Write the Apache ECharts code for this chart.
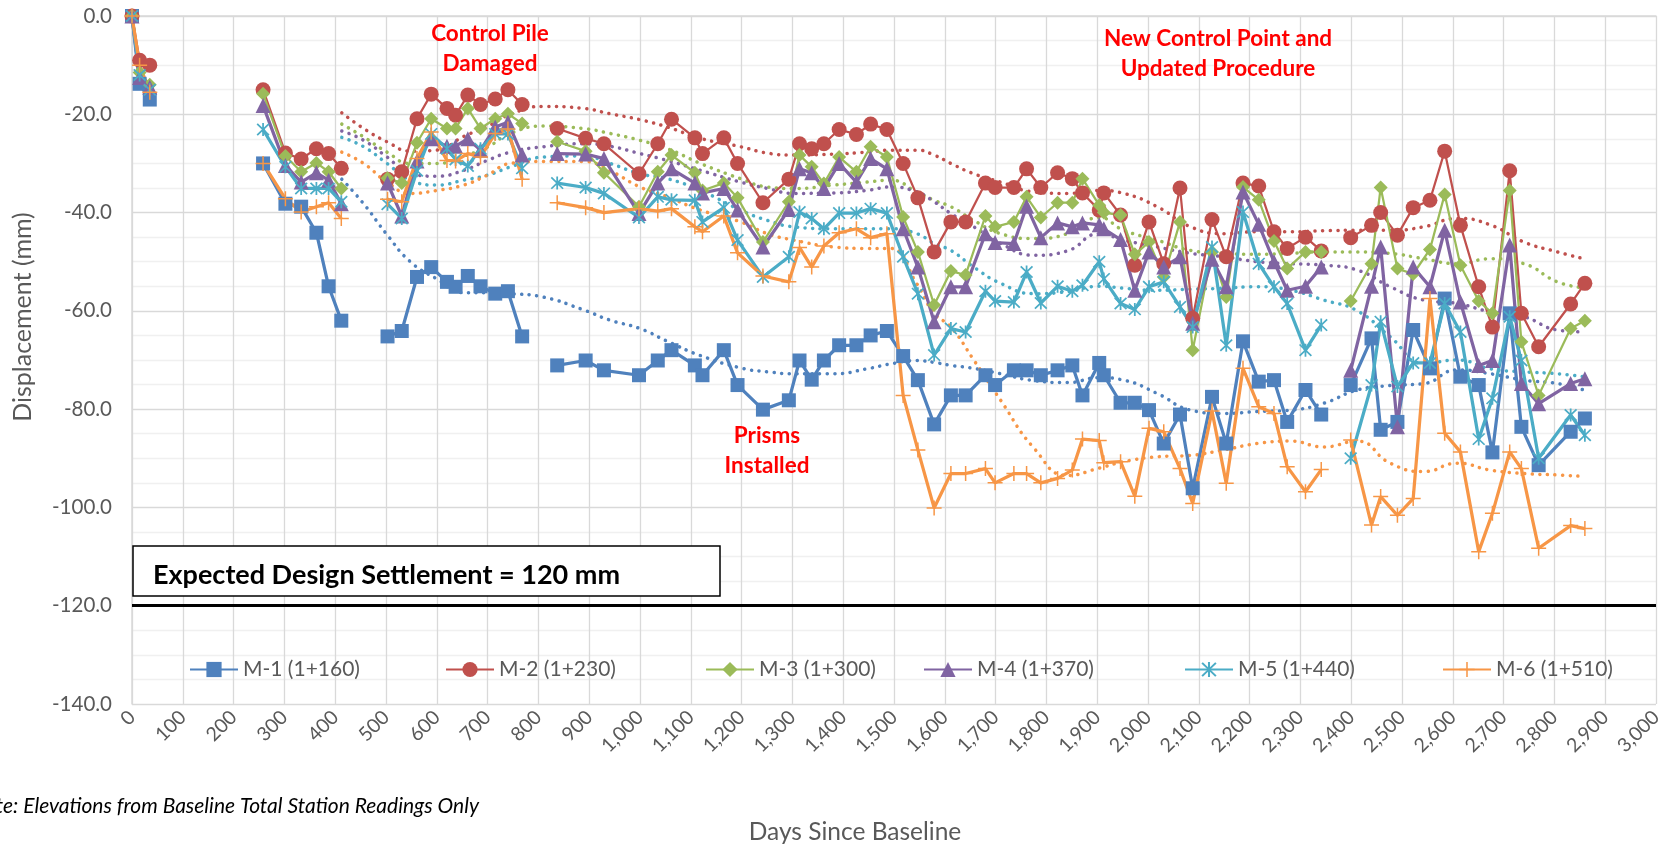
<!DOCTYPE html>
<html>
<head>
<meta charset="utf-8">
<script src="https://cdn.jsdelivr.net/npm/echarts@6/dist/echarts.min.js"></script>
<style>
  html, body { margin: 0; padding: 0; background: #fff; }
  #chart { width: 1669px; height: 848px; }
</style>
</head>
<body>
<div id="chart"></div>
<script>
// days since baseline; 140 / 460 / 800 / 2370 are empty rows (breaks in the lines)
const days = [
  0, 15, 35,
  140,
  258, 302, 333, 363, 387, 412,
  460,
  503, 531, 561, 589, 620, 637, 661, 686, 715, 740, 768,
  800,
  837, 893, 929,
  998, 1035, 1062, 1108, 1123, 1165, 1192,
  1242, 1293, 1314, 1338, 1362, 1392, 1426, 1454, 1486,
  1518, 1547, 1579, 1612, 1641,
  1680, 1699, 1736, 1761, 1789, 1822, 1851, 1871,
  1904, 1913, 1946, 1974, 2002, 2031, 2063, 2088,
  2126, 2154, 2187, 2218, 2248, 2274, 2310, 2341,
  2370,
  2399, 2440, 2458, 2491, 2522, 2555, 2584, 2615, 2651, 2678, 2712, 2735, 2769, 2832, 2860
]

const m1 = [
  0, -13.8, -17.0,
  null,
  -30.0, -38.2, -38.8, -44.1, -55.0, -62.0,
  null,
  -65.2, -64.1, -53.1, -51.1, -54.1, -55.1, -52.9, -55.0, -56.5, -56.0, -65.2,
  null,
  -71.1, -70.1, -72.1,
  -73.1, -70.1, -68.0, -71.1, -73.1, -68.0, -75.1,
  -80.1, -78.2, -70.1, -74.0, -70.1, -67.0, -67.0, -65.0, -64.1,
  -69.2, -74.1, -83.1, -77.2, -77.2,
  -73.1, -75.1, -72.1, -72.1, -73.1, -72.1, -71.1, -77.2,
  -70.6, -73.1, -78.7, -78.7, -80.2, -87.0, -81.1, -96.1,
  -77.5, -87.0, -66.2, -74.4, -74.1, -82.6, -76.1, -81.1,
  null,
  -75.1, -65.6, -84.2, -82.6, -63.9, -71.7, -57.5, -73.4, -75.1, -88.8, -60.5, -83.6, -91.4, -84.6, -81.9
]

const m2 = [
  0, -9.0, -10.0,
  null,
  -15.0, -27.9, -29.1, -27.0, -28.0, -31.0,
  null,
  -33.2, -31.7, -20.9, -15.9, -18.8, -20.2, -16.1, -18.0, -16.9, -15.0, -18.0,
  null,
  -22.9, -24.9, -26.0,
  -32.1, -26.0, -21.0, -24.8, -28.0, -24.8, -30.0,
  -38.0, -33.2, -26.0, -27.0, -26.0, -23.1, -24.1, -22.0, -23.1,
  -30.0, -37.0, -48.0, -41.9, -41.9,
  -34.0, -34.9, -34.9, -31.1, -34.9, -31.9, -33.1, -36.0,
  -39.5, -36.0, -40.5, -50.7, -41.9, -50.4, -35.0, -61.5,
  -41.4, -49.0, -34.0, -34.6, -43.9, -47.3, -45.0, -47.8,
  null,
  -45.1, -42.6, -40.0, -44.6, -39.0, -37.5, -27.5, -42.6, -55.1, -63.3, -31.5, -60.5, -67.3, -58.6, -54.4
]

const m3 = [
  0, -11.5, -14.0,
  null,
  -15.8, -28.5, -31.7, -29.9, -31.7, -35.1,
  null,
  -33.0, -34.0, -25.8, -20.9, -22.9, -22.9, -18.8, -22.9, -20.9, -19.9, -21.9,
  null,
  -25.6, -27.5, -31.9,
  -38.8, -31.7, -28.3, -31.9, -35.5, -34.0, -37.0,
  -46.0, -37.8, -28.3, -30.7, -34.1, -28.7, -31.7, -26.6, -28.7,
  -40.9, -48.0, -58.8, -51.9, -52.7,
  -40.7, -42.9, -41.9, -36.8, -41.0, -38.0, -38.0, -33.1,
  -38.5, -40.0, -40.5, -48.5, -46.0, -53.1, -41.9, -68.0,
  -48.0, -57.2, -34.8, -37.4, -45.8, -51.4, -48.0, -48.0,
  null,
  -58.0, -50.4, -34.9, -51.4, -52.5, -47.5, -36.3, -50.7, -58.0, -60.5, -35.5, -66.3, -77.2, -63.6, -62.0
]

const m4 = [
  0, -12.5, -14.5,
  null,
  -18.2, -30.4, -33.8, -31.9, -33.4, -38.2,
  null,
  -34.0, -40.7, -29.5, -25.0, -26.5, -26.5, -25.0, -27.3, -22.6, -21.6, -28.3,
  null,
  -28.0, -28.1, -29.0,
  -40.2, -34.0, -31.1, -34.0, -36.0, -35.1, -39.5,
  -47.0, -39.4, -31.1, -31.9, -35.1, -30.0, -33.8, -29.0, -31.1,
  -43.3, -51.1, -62.2, -55.1, -55.1,
  -44.3, -46.1, -46.3, -38.7, -45.1, -42.1, -42.9, -42.1,
  -42.5, -43.3, -45.5, -55.8, -48.0, -51.1, -49.0, -62.5,
  -49.5, -55.1, -35.8, -42.4, -50.0, -55.8, -55.0, -51.1,
  null,
  -72.1, -55.0, -47.0, -83.6, -51.1, -55.1, -43.6, -58.2, -71.1, -70.1, -46.6, -74.8, -78.9, -74.8, -73.8
]

const m5 = [
  0, -12.0, -15.0,
  null,
  -23.1, -30.7, -35.1, -35.1, -35.1, -37.8,
  null,
  -38.3, -41.2, -31.5, -24.0, -27.0, -29.2, -30.5, -27.0, -24.0, -24.0, -31.0,
  null,
  -34.0, -34.9, -36.1,
  -41.0, -36.8, -37.4, -37.5, -41.9, -39.0, -45.6,
  -53.1, -49.0, -39.9, -41.2, -43.3, -40.1, -40.1, -39.2, -40.1,
  -49.0, -56.5, -69.0, -63.6, -64.3,
  -56.0, -58.0, -58.2, -52.1, -58.4, -55.0, -56.0, -54.8,
  -50.0, -53.5, -58.5, -59.7, -55.1, -54.1, -59.2, -63.3,
  -47.0, -67.0, -39.9, -50.4, -55.1, -58.5, -68.0, -62.9,
  null,
  -90.0, -75.1, -62.2, -75.4, -70.6, -70.6, -58.5, -64.3, -86.1, -77.8, -61.2, -70.1, -90.0, -81.2, -85.3
]

const m6 = [
  0, -10.0, -15.5,
  null,
  -30.0, -37.2, -39.9, -38.8, -38.0, -41.2,
  null,
  -37.3, -37.8, -29.0, -23.6, -29.4, -29.5, -28.0, -28.7, -23.9, -23.0, -33.2,
  null,
  -38.0, -39.0, -40.0,
  -39.2, -39.7, -39.2, -42.9, -43.9, -40.7, -48.2,
  -52.9, -54.1, -47.1, -51.1, -46.8, -44.1, -43.3, -45.1, -44.3,
  -77.2, -88.3, -100.1, -93.1, -93.1,
  -92.1, -95.0, -93.1, -93.1, -95.0, -94.1, -92.4, -86.1,
  -86.4, -90.9, -90.7, -97.7, -83.9, -84.6, -92.1, -99.2,
  -80.4, -95.1, -71.7, -79.5, -80.9, -91.7, -96.8, -92.3,
  null,
  -86.3, -103.6, -97.8, -101.6, -98.2, -57.5, -84.9, -88.7, -109.0, -101.2, -88.7, -92.1, -108.3, -103.7, -104.3
]

// dotted trend lines
const trendDays = [
  413, 456, 502, 548, 600, 653, 699, 745, 810, 889,
  941, 1000, 1054, 1119, 1198, 1251, 1303, 1382, 1447, 1493,
  1545, 1579, 1612, 1657, 1710, 1776, 1841, 1904, 1952, 2018,
  2084, 2149, 2215, 2281, 2346, 2412, 2477, 2543, 2609, 2674,
  2740, 2806, 2858
]
const trend1 = [
  -33.2, -38.2, -44.5, -50.0, -53.5, -56.3, -56.3, -56.5, -57.2, -59.8,
  -61.9, -63.6, -66.2, -69.1, -71.6, -72.4, -72.8, -72.8, -71.8, -70.8,
  -70.1, -70.5, -71.1, -71.7, -72.8, -74.2, -74.6, -73.6, -74.1, -76.8,
  -80.2, -80.9, -80.5, -80.2, -78.8, -76.1, -75.2, -74.8, -72.0, -72.8,
  -74.1, -74.8, -76.1
]
const trend2 = [
  -19.7, -22.9, -25.6, -27.5, -27.3, -24.5, -22.5, -20.0, -18.4, -18.8,
  -19.9, -21.1, -22.6, -24.9, -26.6, -27.9, -28.3, -28.1, -27.7, -27.3,
  -27.3, -28.3, -30.0, -32.1, -33.8, -35.8, -36.1, -35.5, -36.1, -38.8,
  -42.9, -44.3, -43.9, -43.9, -43.7, -43.6, -43.6, -42.9, -41.2, -42.5,
  -46.0, -48.0, -49.4
]
const trend3 = [
  -22.0, -24.6, -27.7, -30.0, -30.0, -28.5, -26.7, -23.9, -22.4, -22.9,
  -23.9, -25.3, -27.0, -30.0, -33.1, -34.8, -35.1, -34.4, -33.8, -33.4,
  -35.8, -37.5, -38.8, -41.6, -44.3, -45.3, -44.3, -41.0, -43.6, -45.6,
  -47.7, -48.3, -48.5, -48.3, -48.0, -48.0, -48.3, -49.4, -50.4, -49.4,
  -50.4, -54.1, -55.3
]
const trend4 = [
  -23.4, -25.3, -28.7, -32.1, -32.6, -31.4, -29.4, -27.7, -26.6, -26.0,
  -26.5, -28.0, -29.4, -31.4, -33.8, -35.1, -36.1, -36.0, -35.5, -34.8,
  -35.8, -37.8, -40.2, -42.9, -46.3, -48.7, -47.8, -44.3, -45.6, -47.0,
  -48.3, -49.0, -50.0, -50.4, -50.7, -51.7, -55.1, -57.8, -58.5, -60.2,
  -61.2, -63.9, -64.3
]
const trend5 = [
  -24.7, -26.6, -30.0, -33.4, -34.4, -33.4, -32.4, -30.7, -28.7, -28.5,
  -30.0, -32.1, -33.1, -35.5, -39.5, -41.6, -42.9, -43.3, -43.3, -43.3,
  -44.3, -46.3, -47.7, -51.1, -54.4, -56.5, -56.1, -55.0, -55.4, -55.8,
  -55.6, -55.4, -55.1, -55.8, -57.8, -60.0, -65.3, -70.7, -70.0, -71.8,
  -72.4, -72.8, -73.4
]
const trend6 = [
  -27.7, -30.0, -33.8, -36.1, -35.5, -34.4, -32.4, -30.0, -29.6, -29.6,
  -31.5, -34.8, -36.8, -39.5, -41.9, -44.3, -45.6, -47.0, -47.3, -47.3,
  -54.5, -60.5, -63.3, -70.0, -78.2, -88.0, -93.5, -92.0, -90.7, -89.7,
  -89.4, -88.3, -87.0, -86.5, -87.7, -86.5, -91.0, -92.7, -91.0, -92.4,
  -93.1, -93.4, -93.7
]

const names = ['M-1 (1+160)', 'M-2 (1+230)', 'M-3 (1+300)', 'M-4 (1+370)', 'M-5 (1+440)', 'M-6 (1+510)']
const yTicks = [-140, -120, -100, -80, -60, -40, -20, 0]
const designSettlement = -120

const values = [m1, m2, m3, m4, m5, m6]
const trends = [trend1, trend2, trend3, trend4, trend5, trend6]
const colors = ['#4F81BD', '#C0504D', '#9BBB59', '#8064A2', '#4BACC6', '#F79646']

const asterisk = 'path://M8.7,0L11.3,0L11.3,20L8.7,20Z M2.2,0.4L19.6,17.8L17.8,19.6L0.4,2.2Z M17.8,0.4L19.6,2.2L2.2,19.6L0.4,17.8Z'
const plus = 'path://M9,0L11,0L11,9L20,9L20,11L11,11L11,20L9,20L9,11L0,11L0,9L9,9Z'
const symbols = ['rect', 'circle', 'diamond', 'triangle', asterisk, plus]
const symbolSizes = [14, 15, 14, 15, 13, 15]
const lineWidths = [3.25, 2.25, 2.25, 3.25, 3.25, 3.25]
const legendLeft = [184, 440, 700, 918, 1179, 1437]

const font = 'Lato'
const grey = '#595959'

const toPairs = (xs, ys) => xs.map((x, i) => [x, ys[i] == null ? '-' : ys[i]])
const withCommas = v => String(v).replace(/\B(?=(\d{3})+(?!\d))/g, ',')

const chart = echarts.init(document.getElementById('chart'))

const trendSeries = trends.map((t, i) => ({
  name: names[i] + ' trend',
  type: 'line',
  data: toPairs(trendDays, t),
  showSymbol: false,
  smooth: true,
  silent: true,
  z: 1,
  lineStyle: { color: colors[i], width: 3.5, type: [0.1, 7.5], cap: 'round' }
}))

const dataSeries = values.map((v, i) => ({
  name: names[i],
  type: 'line',
  data: toPairs(days, v),
  symbol: symbols[i],
  symbolSize: symbolSizes[i],
  z: 3,
  lineStyle: { color: colors[i], width: lineWidths[i] },
  itemStyle: { color: colors[i] },
  markLine: i === 0 ? {
    silent: true,
    symbol: 'none',
    label: { show: false },
    lineStyle: { color: '#000', width: 3, type: 'solid' },
    data: [{ yAxis: designSettlement }]
  } : undefined
}))

const redNote = (x, y, text) => ({
  type: 'text', x, y, z: 10,
  style: {
    text, font: 'bold 22.5px ' + font, fill: '#FF0000',
    align: 'center', verticalAlign: 'middle', textAlign: 'center', textVerticalAlign: 'middle',
    lineHeight: 30
  }
})

chart.setOption({
  animation: false,
  backgroundColor: '#fff',
  grid: { left: 132, right: 13, top: 16, bottom: 144, containLabel: false },
  xAxis: {
    type: 'value',
    min: 0,
    max: 3000,
    interval: 100,
    axisLine: { show: true, lineStyle: { color: '#d9d9d9', width: 1.5 } },
    axisTick: { show: false },
    axisLabel: {
      rotate: 45, margin: 10, color: grey, fontSize: 19.5, fontFamily: font,
      formatter: withCommas, showMinLabel: true, showMaxLabel: true
    },
    splitLine: { show: true, lineStyle: { color: '#d9d9d9', width: 1.3 } }
  },
  yAxis: {
    type: 'value',
    min: yTicks[0],
    max: yTicks[yTicks.length - 1],
    interval: 20,
    axisLine: { show: true, lineStyle: { color: '#d9d9d9', width: 1.5 } },
    axisTick: { show: false },
    minorTick: { show: false, splitNumber: 4 },
    minorSplitLine: { show: true, lineStyle: { color: '#f0f0f0', width: 1.3 } },
    axisLabel: { margin: 20, color: grey, fontSize: 20.5, fontFamily: font, formatter: v => v.toFixed(1) },
    splitLine: { show: true, lineStyle: { color: '#d9d9d9', width: 1.3 } }
  },
  legend: names.map((n, i) => ({
    data: [n],
    left: legendLeft[i],
    top: 654,
    itemWidth: 48,
    itemHeight: 19,
    textStyle: { color: grey, fontSize: 21, fontFamily: font }
  })),
  series: [...trendSeries, ...dataSeries],
  graphic: [
    {
      type: 'text', x: 23, y: 317, rotation: Math.PI / 2,
      style: {
        text: 'Displacement (mm)', font: '25px ' + font, fill: grey,
        align: 'center', verticalAlign: 'middle', textAlign: 'center', textVerticalAlign: 'middle'
      }
    },
    {
      type: 'text', x: 855, y: 832,
      style: {
        text: 'Days Since Baseline', font: '24.5px ' + font, fill: grey,
        align: 'center', verticalAlign: 'middle', textAlign: 'center', textVerticalAlign: 'middle'
      }
    },
    {
      type: 'text', x: 479, y: 806,
      style: {
        text: 'Note: Elevations from Baseline Total Station Readings Only', font: 'italic 21px ' + font, fill: '#000',
        align: 'right', verticalAlign: 'middle', textAlign: 'right', textVerticalAlign: 'middle'
      }
    },
    redNote(490, 49, 'Control Pile\nDamaged'),
    redNote(1218, 54, 'New Control Point and\nUpdated Procedure'),
    redNote(767, 451, 'Prisms\nInstalled'),
    {
      type: 'rect', z: 10,
      shape: { x: 133, y: 546, width: 587, height: 50 },
      style: { fill: '#fff', stroke: '#000', lineWidth: 1.5 }
    },
    {
      type: 'text', x: 153, y: 575, z: 11,
      style: {
        text: 'Expected Design Settlement = 120 mm', font: 'bold 27px ' + font, fill: '#000',
        align: 'left', verticalAlign: 'middle', textAlign: 'left', textVerticalAlign: 'middle'
      }
    }
  ]
})

window.addEventListener('resize', () => chart.resize())
</script>
</body>
</html>
